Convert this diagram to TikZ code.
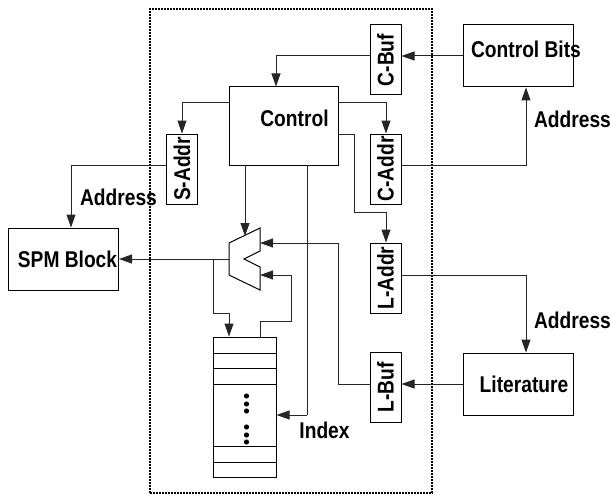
\documentclass[tikz,border=0pt]{standalone}
\usepackage{fontspec}
\setmainfont{Liberation Sans}
\usetikzlibrary{arrows.meta,calc}
\newcommand{\lbl}[1]{\scalebox{1.01}[1.2]{#1}}
\tikzset{
  x=1pt,y=-1pt,
  line width=1pt,
  wire/.style={draw=black!85,line width=1pt,-{Triangle[length=13pt,width=9pt]}},
  plainwire/.style={draw=black!85,line width=1pt},
  box/.style={draw=black,line width=1pt,inner sep=0pt,font=\bfseries\fontsize{19}{19}\selectfont},
  bigbox/.style={box,minimum width=110pt,minimum height=62pt},
  ctlbox/.style={box,minimum width=109pt,minimum height=78pt},
  regbox/.style={box,rotate=90,minimum width=70pt,minimum height=31pt},
  txt/.style={inner sep=0pt,font=\bfseries\fontsize{19}{19}\selectfont},
  row/.style={draw=black,line width=1pt},
}
\begin{document}
\begin{tikzpicture}
\useasboundingbox (0,0) rectangle (611,495);
% dotted boundary
\node[draw=black,line width=2.6pt,dash pattern=on 1.6pt off 1.4pt,minimum width=282pt,minimum height=484pt,inner sep=0pt] (chip) at (291,251) {};
% blocks
\node[ctlbox,label={[txt,xshift=11pt,yshift=8pt]center:\lbl{Control}}] (ctl) at (283.5,126) {};
\node[bigbox,label={[txt,xshift=8pt,yshift=7pt]center:\lbl{Control Bits}}] (bits) at (518,56) {};
\node[bigbox] (spm) at (63.5,259) {\hspace{8pt}\lbl{SPM Block}};
\node[bigbox] (lit) at (518,384) {\hspace{12pt}\lbl{Literature}};
\node[regbox] (cbuf) at (385.5,60) {\lbl{C-Buf}};
\node[regbox] (caddr) at (385.5,169) {\lbl{C-Addr}\hspace{6pt}};
\node[regbox] (saddr) at (182,169) {\lbl{S-Addr}\hspace{6pt}};
\node[regbox] (laddr) at (385.5,278) {\lbl{L-Addr}\hspace{6pt}};
\node[regbox] (lbuf) at (385.5,387.5) {\lbl{L-Buf}\hspace{6pt}};
% memory
\node[draw=black,line width=1pt,minimum width=63pt,minimum height=140pt,inner sep=0pt] (mem) at (244.5,407) {};
\draw[row] (213,353) -- (276,353);
\draw[row] (213,368) -- (276,368);
\draw[row] (213,384) -- (276,384);
\draw[row] (213,446) -- (276,446);
\draw[row] (213,462) -- (276,462);
\foreach \yy in {396,404,411,427,435,442} \fill (246.5,\yy) circle (2.6pt);
% multiplexer
\coordinate (mA) at (229,243);
\coordinate (mB) at (260,228);
\coordinate (mC) at (260,251);
\coordinate (mD) at (244,259);
\coordinate (mE) at (260,267);
\coordinate (mF) at (260,290);
\coordinate (mG) at (229,275);
\coordinate (mOut) at (229,259);
\draw[line width=1pt,line join=miter] (mA) -- (mB) -- (mC) -- (mD) -- (mE) -- (mF) -- (mG) -- cycle;
% labels
\node[txt] (a1) at (572.5,119) {\lbl{Address}};
\node[txt] (a2) at (572.5,320) {\lbl{Address}};
\node[txt] (a3) at (118.5,197) {\lbl{Address}};
\node[txt] (idx) at (324.5,430) {\lbl{Index}};
% helper corners
\coordinate (p1) at (276,56);
\coordinate (p2) at (182,103);
\coordinate (p3) at (386,103);
\coordinate (p4) at (354,134);
\coordinate (p5) at (386,212);
\coordinate (p6) at (245,165);
\coordinate (p7) at (245,236);
\coordinate (p8) at (307,165);
\coordinate (p9) at (307,415);
\coordinate (p10) at (526,165);
\coordinate (p11) at (71,165);
\coordinate (p12) at (213,259);
\coordinate (p13) at (213,313);
\coordinate (p14) at (229,313);
\coordinate (p15) at (260,337);
\coordinate (p16) at (260,321);
\coordinate (p17) at (291,321);
\coordinate (p18) at (291,275);
\coordinate (p19) at (338,384);
\coordinate (p20) at (338,243);
\coordinate (p21) at (526,275);
% connectors
\draw[wire] (bits.west |- p1) -- (cbuf.south |- p1);
\draw[wire] (cbuf.north |- p1) -- (p1) -- (p1 |- ctl.north);
\draw[wire] (ctl.west |- p2) -- (p2) -- (saddr.east);
\draw[wire] (ctl.east |- p3) -- (p3) -- (p3 |- caddr.east);
\draw[wire] (ctl.east |- p4) -- (p4) -- (p4 |- p5) -- (p5) -- (p5 |- laddr.east);
\draw[wire] (p6) -- (p7);
\draw[plainwire] (p8) -- (p9);
\draw[wire] (p9) -- (p9 -| mem.east);
\draw[wire] (caddr.south |- p10) -- (p10) -- (p10 |- bits.south);
\draw[wire] (saddr.north |- p11) -- (p11) -- (p11 |- spm.north);
\draw[wire] (mOut) -- (spm.east);
\draw[plainwire] (p12) -- (p13) -- (p14);
\draw[wire] (p14) -- (p14 |- mem.north);
\draw[wire] (p15) -- (p16) -- (p17) -- (p18) -- (mF |- p18);
\draw[wire] (lit.west) -- (lit.west -| lbuf.south);
\draw[wire] (lbuf.north |- p19) -- (p19) -- (p20) -- (mB |- p20);
\draw[wire] (laddr.south |- p21) -- (p21) -- (p21 |- lit.north);
\end{tikzpicture}
\end{document}
